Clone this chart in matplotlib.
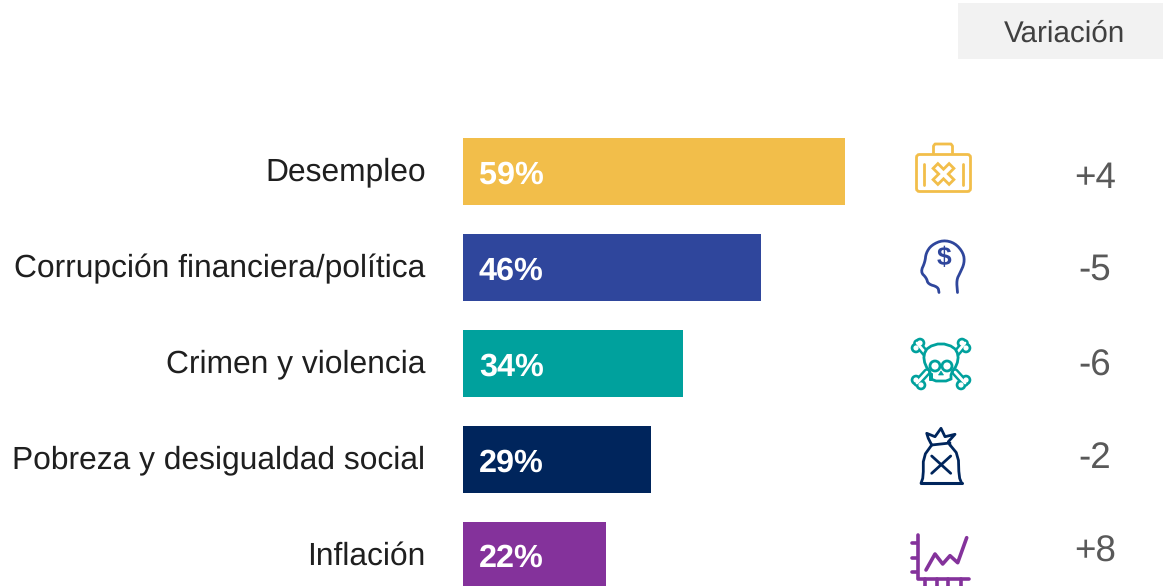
import matplotlib
matplotlib.use('Agg')
import matplotlib.pyplot as plt
import numpy as np
from matplotlib.patches import Rectangle, FancyBboxPatch, Circle, Polygon

plt.rcParams['font.family'] = ['Liberation Sans', 'DejaVu Sans']
plt.rcParams['text.hinting'] = 'no_hinting'

categories = ['Desempleo', 'Corrupción financiera/política', 'Crimen y violencia',
              'Pobreza y desigualdad social', 'Inflación']
values = [59, 46, 34, 29, 22]
variation = ['+4', '-5', '-6', '-2', '+8']
colors = ['#F2BE4A', '#2F469C', '#00A19D', '#00255C', '#84329B']

W, H = 1163, 586
fig = plt.figure(figsize=(W / 100, H / 100), dpi=100)

# bar axes fills the figure, limits chosen so 1 point = 6.48 px and rows are 96 px apart
ax = fig.add_axes([0, 0, 1, 1])
ax.set_xlim(-463 / 6.48, (W - 463) / 6.48)
ax.set_ylim((H - 171.5) / 96, -171.5 / 96)
ax.axis('off')
ax.barh(range(len(values)), values, height=67 / 96, color=colors, linewidth=0)
for i, v in enumerate(values):
    ax.annotate(f'{v}%', (0, i), xytext=(11.5, -2.5), textcoords='offset points',
                color='white', fontsize=23.3, fontweight='bold', ha='left', va='center')
    ax.annotate(categories[i], (0, i), xytext=(-27, -0.7), textcoords='offset points',
                color='#1f1f1f', fontsize=22.9, ha='right', va='center')

# overlay in pixel coordinates for header and icons
px = fig.add_axes([0, 0, 1, 1])
px.set_xlim(0, W)
px.set_ylim(H, 0)
px.axis('off')
px.patch.set_alpha(0)

px.add_patch(Rectangle((958, 3), 205, 56, color='#F2F2F2', lw=0))
px.text(1065, 34, 'Variación', fontsize=21.3, color='#404040', ha='center', va='center')

var_y = [178.5, 270.5, 366.5, 458.5, 552.5]
for y, t in zip(var_y, variation):
    px.text(1095, y, t, fontsize=26.5, color='#595959', ha='center', va='center')


def smooth(xs, ys, n=2):
    # corner cutting so the hand-placed icon outlines look rounded
    p = np.column_stack([xs, ys]).astype(float)
    for _ in range(n):
        q = 0.75 * p[:-1] + 0.25 * p[1:]
        r = 0.25 * p[:-1] + 0.75 * p[1:]
        mid = np.empty((q.shape[0] * 2, 2))
        mid[0::2] = q
        mid[1::2] = r
        p = np.vstack([p[0], mid, p[-1]])
    return p[:, 0], p[:, 1]


def line(xs, ys, c, lw=2.0, z=2):
    px.plot(xs, ys, color=c, lw=lw, solid_capstyle='round', solid_joinstyle='round', zorder=z)


# suitcase
c = colors[0]
px.add_patch(FancyBboxPatch((916.5, 154.5), 54, 37, boxstyle='round,pad=0,rounding_size=3',
                            fc='none', ec=c, lw=2.0))
line([933.5, 933.5, 935, 951, 952.5, 952.5], [153, 146, 144, 144, 146, 153], c)
line([923.5, 923.5], [164, 185], c)
line([962.5, 962.5], [164, 185], c)
cx, cy = 943.5, 174
arm = [(-3, -10), (3, -10), (3, -3), (10, -3), (10, 3), (3, 3), (3, 10), (-3, 10), (-3, 3), (-10, 3), (-10, -3), (-3, -3)]
rot = [((a - b) * 0.8 + cx, (a + b) * 0.8 + cy) for a, b in arm]
px.add_patch(Polygon(rot, closed=True, fc='none', ec=c, lw=2.0))

# head with dollar
c = colors[1]
hx, hy = smooth([939, 938, 928, 926.5, 920.5, 925, 926, 931.5, 943, 955, 963.5, 964.5, 960, 956.5, 957.5],
                [292.5, 287, 284, 278, 272, 262, 253, 245, 240, 243, 253, 263, 273, 280, 292.5])
line(hx, hy, c, lw=2.0)
px.text(944, 258, r'\$', fontsize=19, fontweight='bold', color=c, ha='center', va='center')

# skull and bones, teal strokes first and white on top so the outline merges
c = colors[2]
bones = [((927, 355), (917, 343)), ((955, 355), (965, 343)),
         ((927, 372), (917, 383)), ((955, 372), (965, 383))]
knobs = [[(920, 343), (916, 348)], [(962, 343), (966, 348)],
         [(916, 380), (921, 385)], [(966, 380), (961, 385)]]
for (a, b) in bones:
    line([a[0], b[0]], [a[1], b[1]], c, lw=5.5)
for pair in knobs:
    for k in pair:
        px.add_patch(Circle(k, 5.3, fc=c, ec='none', zorder=2))
for (a, b) in bones:
    line([a[0], b[0]], [a[1], b[1]], 'white', lw=2.0, z=3)
for pair in knobs:
    for k in pair:
        px.add_patch(Circle(k, 2.6, fc='white', ec='none', zorder=3))
sx, sy = smooth([931, 931, 925, 923.5, 928, 941, 954, 958.5, 957, 951, 951, 931, 931],
                [381, 373, 365, 355, 347, 343, 347, 355, 365, 373, 381, 381, 373], n=1)
px.fill(sx, sy, fc='white', ec=c, lw=2.0, zorder=4)
px.add_patch(Circle((935, 366), 5, fc='none', ec=c, lw=2.0, zorder=5))
px.add_patch(Circle((947, 366), 5, fc='none', ec=c, lw=2.0, zorder=5))
px.add_patch(Polygon([(941, 371), (938.5, 375), (943.5, 375)], fc=c, ec=c, lw=0.5, zorder=5))

# bag
c = colors[3]
bx1, by1 = smooth([921, 923.3, 923.3, 931.7], [483.3, 476.7, 456.7, 445], n=1)
bx2, by2 = smooth([950, 958.3, 959, 961.7], [445, 455, 476.7, 483.3], n=1)
line(bx1, by1, c)
line(bx2, by2, c)
line([921, 961.7], [483.3, 483.3], c, lw=2.2)
line([931.7, 928.3, 926.7, 935, 941, 945, 955, 948.3, 950],
     [445, 438.3, 433.3, 436.7, 428.3, 436.7, 434.3, 441.7, 445], c)
line([931.7, 950], [445, 443], c)
line([931.7, 950.7], [473.3, 456], c)
line([931.7, 950.7], [456, 473.3], c)

# line chart icon
c = colors[4]
line([918, 918, 969], [535, 579, 579], c, lw=2.6)
for y in [543, 558, 572]:
    line([912, 917], [y, y], c, lw=2.6)
line([926, 935, 942.7, 950, 957.7, 966.7], [570, 554, 564, 555.7, 562.7, 537.7], c, lw=2.6)
for x in [925, 937, 948, 961]:
    line([x, x], [579, 590], c, lw=2.6)

fig.savefig('out.png', dpi=100)
